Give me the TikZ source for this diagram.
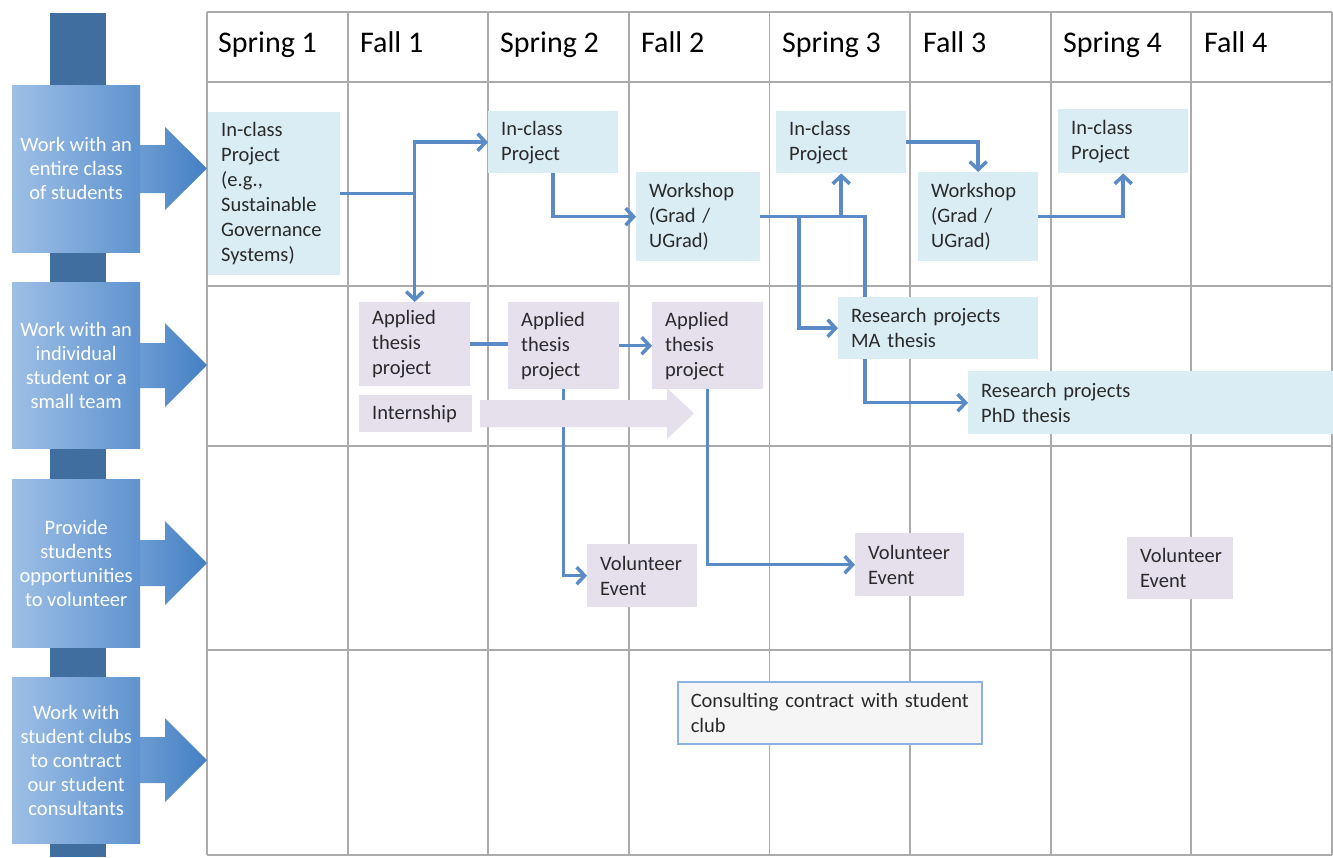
\documentclass[tikz,border=0pt]{standalone}
\usepackage{fontspec}
\setmainfont{Carlito}
\usetikzlibrary{arrows.meta}
\pgfdeclarelayer{bg}
\pgfsetlayers{bg,main}
\definecolor{gridc}{HTML}{ABABAB}
\definecolor{cls}{HTML}{DAEDF4}
\definecolor{lav}{HTML}{E5E0EC}
\definecolor{conn}{HTML}{5A8BC6}
\definecolor{txt}{HTML}{2A2A2A}
\definecolor{barc}{HTML}{3F6E9F}
\definecolor{lboxL}{HTML}{9DBFE5}
\definecolor{lboxR}{HTML}{5F93CF}
\definecolor{arrL}{HTML}{6E9DD4}
\definecolor{arrR}{HTML}{4380C3}
\definecolor{consb}{HTML}{8DB3E2}
\begin{document}
\begin{tikzpicture}[x=1pt,y=-1pt,
  gridline/.style={draw=gridc,line width=1.8pt},
  cbox/.style={fill=cls,inner xsep=13pt,inner ysep=0pt,align=left,anchor=north west,
    font=\fontsize{20.5}{25}\selectfont,text=txt},
  lbox/.style={cbox,fill=lav},
  leftbox/.style={left color=lboxL,right color=lboxR,inner sep=0pt,align=center,
    anchor=north west,minimum width=128,font=\fontsize{20.5}{24}\selectfont,text=white},
  hdr/.style={anchor=base west,font=\fontsize{30}{34}\selectfont,text=black,inner sep=0pt},
  conn/.style={draw=conn,line width=3.5pt},
  arr/.style={conn,-{Straight Barb[length=8pt,width=17pt]}}]
\useasboundingbox (0,0) rectangle (1333,857);
\begin{pgfonlayer}{bg}
\fill[white] (0,0) rectangle (1333,857);
% grid
\foreach \yy in {12,82,286,446,650,855} \draw[gridline] (207,\yy) -- (1332,\yy);
\foreach \xx in {207,347.6,488.2,628.8,769.4,910,1050.6,1191.2,1332} \draw[gridline] (\xx,12) -- (\xx,855);
\end{pgfonlayer}
% headers
\node[hdr] (h1) at (218,52) {Spring 1};
\node[hdr] (h2) at (360,52) {Fall 1};
\node[hdr] (h3) at (500,52) {Spring 2};
\node[hdr] (h4) at (641,52) {Fall 2};
\node[hdr] (h5) at (782,52) {Spring 3};
\node[hdr] (h6) at (923,52) {Fall 3};
\node[hdr] (h7) at (1063,52) {Spring 4};
\node[hdr] (h8) at (1204,52) {Fall 4};
% left column
\fill[barc] (50,13) rectangle (106,857);
\shade[left color=arrL,right color=arrR] (135,145) -- (165,145) -- (165,127) -- (207,168.5) -- (165,210) -- (165,193) -- (135,193) -- cycle;
\shade[left color=arrL,right color=arrR] (135,343) -- (165,343) -- (165,323) -- (207,365) -- (165,407) -- (165,388) -- (135,388) -- cycle;
\shade[left color=arrL,right color=arrR] (135,540) -- (165,540) -- (165,521) -- (207,563) -- (165,605) -- (165,586) -- (135,586) -- cycle;
\shade[left color=arrL,right color=arrR] (135,737) -- (165,737) -- (165,718) -- (207,760) -- (165,802) -- (165,783) -- (135,783) -- cycle;
\node[leftbox,minimum height=167] (L1) at (12,85) {Work with an\\entire class\\of students};
\node[leftbox,minimum height=166] (L2) at (12,282) {Work with an\\individual\\student or a\\small team};
\node[leftbox,minimum height=168] (L3) at (12,479) {Provide\\students\\opportunities\\to volunteer};
\node[leftbox,minimum height=166] (L4) at (12,677) {Work with\\student clubs\\to contract\\our student\\consultants};
% content boxes
\node[cbox,minimum width=132,minimum height=163,text width=106] (A) at (208,112) {In-class\\Project\\(e.g.,\\Sustainable\\Governance\\Systems)};
\node[cbox,minimum width=130,minimum height=62,text width=104] (B) at (488,111) {In-class\\Project};
\node[cbox,minimum width=124,minimum height=89,text width=98] (W1) at (636,172) {Workshop\\(Grad /\\UGrad)};
\node[cbox,minimum width=130,minimum height=62,text width=104] (C) at (776,111) {In-class\\Project};
\node[cbox,minimum width=120,minimum height=89,text width=94] (W2) at (918,172) {Workshop\\(Grad /\\UGrad)};
\node[cbox,minimum width=130,minimum height=64,text width=104] (D) at (1058,109) {In-class\\Project};
\node[cbox,minimum width=200,minimum height=62,text width=174] (MA) at (838,297) {Research projects\\MA thesis};
\node[cbox,minimum width=365,minimum height=63,text width=339] (PhD) at (968,371) {Research projects\\PhD thesis};
\node[lbox,minimum width=111,minimum height=84,text width=85] (AT1) at (359,302) {Applied\\thesis\\project};
\node[lbox,minimum width=111,minimum height=87,text width=85] (AT2) at (508,302) {Applied\\thesis\\project};
\node[lbox,minimum width=111,minimum height=87,text width=85] (AT3) at (652,302) {Applied\\thesis\\project};
\node[lbox,minimum width=113,minimum height=37,text width=87] (IN) at (359,395) {Internship};
\node[lbox,minimum width=110,minimum height=63,text width=84] (V1) at (587,544) {Volunteer\\Event};
\node[lbox,minimum width=109,minimum height=63,text width=83] (V2) at (855,533) {Volunteer\\Event};
\node[lbox,minimum width=106,minimum height=62,text width=80] (V3) at (1127,537) {Volunteer\\Event};
\node[cbox,fill=black!4,draw=consb,line width=1.5pt,minimum width=304,minimum height=62,text width=278] (CO) at (677,681) {\mbox{Consulting contract with student}\\club};
% connectors (behind the boxes)
\coordinate (jm) at (799,0);
\coordinate (jp) at (865,0);
\begin{pgfonlayer}{bg}
\draw[arr] (A.east) -- (A.east -| AT1.north) |- (B.west);
\draw[arr] (A.east -| AT1.north) -- (AT1.north);
\draw[arr] (B.south) |- (W1.west);
\draw[arr] (W1.east) -| (C.south);
\draw[arr] (W1.east) -- (W1.east -| jp) |- (PhD.west);
\draw[arr] (W1.east -| jm) |- (MA.west);
\draw[arr] (C.east) -| (W2.north);
\draw[arr] (W2.east) -| (D.south);
\draw[conn] (AT1.east) -- (AT1.east -| AT2.west);
\draw[arr] (AT2.east) -- (AT2.east -| AT3.west);
\draw[arr] (AT2.south) |- (V1.west);
\draw[arr] (AT3.south) |- (V2.west);
\end{pgfonlayer}
% internship arrow
\fill[lav] (480,400) -- (667,400) -- (667,388) -- (694,413.5) -- (667,439) -- (667,427) -- (480,427) -- cycle;
\end{tikzpicture}
\end{document}
